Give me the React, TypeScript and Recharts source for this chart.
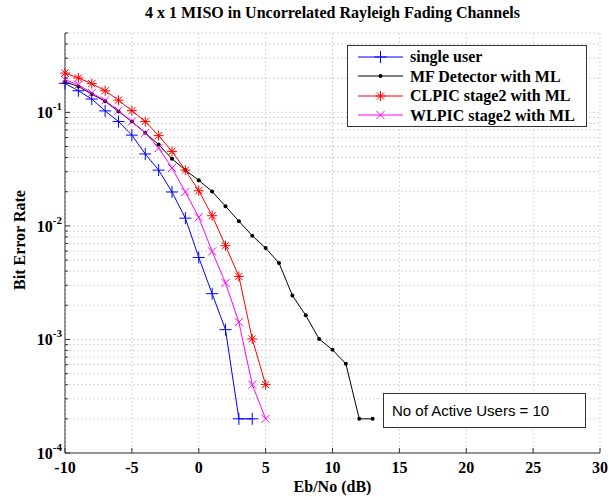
import React from 'react';
import { LineChart, Line, XAxis, YAxis, CartesianGrid } from 'recharts';

// Eb/No in dB
const ebno = [-10, -9, -8, -7, -6, -5, -4, -3, -2, -1, 0, 1, 2, 3, 4, 5, 6, 7, 8, 9, 10, 11, 12, 13];

// BER values (each series starts at -10 dB)
const singleUser = [0.18, 0.155, 0.131, 0.103, 0.083, 0.063, 0.043, 0.031, 0.0199, 0.0117, 0.00527, 0.00253, 0.00122, 0.0002, 0.0002];
const mfDetector = [0.186, 0.169, 0.145, 0.125, 0.102, 0.083, 0.066, 0.052, 0.039, 0.031, 0.0252, 0.0201, 0.0149, 0.011, 0.0082, 0.00638, 0.00471, 0.00244, 0.00163, 0.00101, 0.00081, 0.00061, 0.0002, 0.0002];
const clpic = [0.222, 0.201, 0.179, 0.155, 0.128, 0.1035, 0.083, 0.0624, 0.0453, 0.031, 0.0204, 0.0123, 0.0067, 0.00359, 0.00101, 0.0004];
const wlpic = [0.194, 0.175, 0.148, 0.127, 0.1035, 0.083, 0.066, 0.0485, 0.0324, 0.0199, 0.0119, 0.00596, 0.00314, 0.00142, 0.0004, 0.0002];

const xTicks = [-10, -5, 0, 5, 10, 15, 20, 25, 30];
const decades = [1e-4, 1e-3, 1e-2, 1e-1];
const mantissas = [1, 2, 3, 4, 5, 6, 7, 8, 9];

const legendItems = [
  { name: 'single user', color: '#0000ff', marker: 'plus' },
  { name: 'MF Detector with ML', color: '#000000', marker: 'dot' },
  { name: 'CLPIC stage2 with ML', color: '#ff0000', marker: 'star' },
  { name: 'WLPIC stage2 with ML', color: '#ff00ff', marker: 'cross' },
];

const data = ebno.map((x, i) => ({
  x,
  su: singleUser[i],
  mf: mfDetector[i],
  cl: clpic[i],
  wl: wlpic[i],
}));

// log ticks: every mantissa of every decade, up to the 0.5 top limit
const yTicks: number[] = [];
decades.forEach((d) => mantissas.forEach((m) => {
  const v = +(m * d).toPrecision(3);
  if (v <= 0.5) yTicks.push(v);
}));

const SERIF = '"Liberation Serif", "Times New Roman", serif';
const SANS = '"Liberation Sans", Arial, sans-serif';
const AXIS = '#333';
const FS = 16;

const isDecade = (v: number) => Math.abs(Math.log10(v) - Math.round(Math.log10(v))) < 1e-6;

function Marker({ cx, cy, kind, color }: { cx: number; cy: number; kind: string; color: string }) {
  if (cx == null || cy == null) return null;
  if (kind === 'dot') return <circle cx={cx} cy={cy} r={2} fill={color} />;
  let d = '';
  if (kind === 'plus' || kind === 'star') {
    const r = kind === 'plus' ? 6 : 5;
    d += `M${cx - r},${cy}H${cx + r}M${cx},${cy - r}V${cy + r}`;
  }
  if (kind === 'cross' || kind === 'star') {
    const r = kind === 'cross' ? 4 : 3.6;
    d += `M${cx - r},${cy - r}L${cx + r},${cy + r}M${cx - r},${cy + r}L${cx + r},${cy - r}`;
  }
  return <path d={d} stroke={color} strokeWidth={1} fill="none" />;
}

const BottomTick = ({ x, y, payload }: any) => (
  <g>
    <line x1={x} y1={y} x2={x} y2={y - 5} stroke={AXIS} />
    <text x={x} y={y + 20} textAnchor="middle" fontFamily={SERIF} fontWeight="bold" fontSize={FS} fill="#000">
      {payload.value}
    </text>
  </g>
);

const TopTick = ({ x, y }: any) => <line x1={x} y1={y} x2={x} y2={y + 5} stroke={AXIS} />;

const LeftTick = ({ x, y, payload }: any) => {
  const major = isDecade(payload.value);
  const exp = Math.round(Math.log10(payload.value));
  return (
    <g>
      <line x1={x} y1={y} x2={x + (major ? 5 : 3)} y2={y} stroke={AXIS} />
      {major && (
        <text x={x - 3} y={y + 6} textAnchor="end" fontFamily={SERIF} fontWeight="bold" fontSize={FS} fill="#000">
          <tspan>10</tspan>
          <tspan dy={-8} fontSize={11}>{exp}</tspan>
        </text>
      )}
    </g>
  );
};

const RightTick = ({ x, y, payload }: any) => {
  const major = isDecade(payload.value);
  return <line x1={x} y1={y} x2={x - (major ? 5 : 3)} y2={y} stroke={AXIS} />;
};

function LegendBox() {
  return (
    <div
      style={{
        position: 'absolute', left: 347, top: 45, width: 240, height: 82,
        border: `1px solid ${AXIS}`, background: '#fff', boxSizing: 'border-box',
        fontFamily: SERIF, fontWeight: 'bold', fontSize: FS, paddingTop: 1,
      }}
    >
      {legendItems.map((it) => (
        <div key={it.name} style={{ display: 'flex', alignItems: 'center', height: 19.5 }}>
          <svg width={62} height={14} style={{ flex: 'none' }}>
            <line x1={10} y1={7} x2={55} y2={7} stroke={it.color} strokeWidth={1} />
            <Marker cx={32.5} cy={7} kind={it.marker} color={it.color} />
          </svg>
          <span style={{ lineHeight: '19px', whiteSpace: 'nowrap' }}>{it.name}</span>
        </div>
      ))}
    </div>
  );
}

export default function App() {
  const series = [
    { key: 'su', ...legendItems[0] },
    { key: 'mf', ...legendItems[1] },
    { key: 'cl', ...legendItems[2] },
    { key: 'wl', ...legendItems[3] },
  ];
  return (
    <div style={{ position: 'absolute', left: 0, top: 0, width: 609, height: 500, background: '#fff' }}>
      <LineChart width={609} height={500} data={data} margin={{ top: 33, right: 9, bottom: 0, left: 0 }}>
        <CartesianGrid stroke="#d4d4d4" strokeDasharray="2 2" />
        <XAxis
          type="number" dataKey="x" domain={[-10, 30]} ticks={xTicks} height={47}
          stroke={AXIS} tickLine={false} tickSize={0} tickMargin={0} tick={BottomTick} interval={0}
        />
        <XAxis
          xAxisId="top" orientation="top" type="number" dataKey="x" domain={[-10, 30]} ticks={xTicks} height={0}
          stroke={AXIS} tickLine={false} tickSize={0} tickMargin={0} tick={TopTick} interval={0}
        />
        <YAxis
          scale="log" domain={[1e-4, 0.5]} allowDataOverflow ticks={yTicks} width={65} type="number"
          stroke={AXIS} tickLine={false} tickSize={0} tickMargin={0} tick={LeftTick} interval={0}
        />
        <YAxis
          yAxisId="right" orientation="right" scale="log" domain={[1e-4, 0.5]} allowDataOverflow ticks={yTicks}
          width={0} type="number" stroke={AXIS} tickLine={false} tickSize={0} tickMargin={0} tick={RightTick} interval={0}
        />
        {series.map((s) => (
          <Line
            key={s.key}
            dataKey={s.key}
            stroke={s.color}
            strokeWidth={1}
            isAnimationActive={false}
            dot={(p: any) => <Marker key={`${s.key}-${p.index}`} cx={p.cx} cy={p.cy} kind={s.marker} color={s.color} />}
            activeDot={false}
          />
        ))}
      </LineChart>

      <div style={{ position: 'absolute', left: 65, width: 535, top: 4, textAlign: 'center', fontFamily: SERIF, fontWeight: 'bold', fontSize: FS }}>
        4 x 1 MISO in Uncorrelated Rayleigh Fading Channels
      </div>
      <div style={{ position: 'absolute', left: 65, width: 535, top: 478, textAlign: 'center', fontFamily: SERIF, fontWeight: 'bold', fontSize: FS }}>
        Eb/No (dB)
      </div>
      <div
        style={{
          position: 'absolute', left: 20, top: 240, transform: 'translate(-50%, -50%) rotate(-90deg)',
          fontFamily: SERIF, fontWeight: 'bold', fontSize: FS, whiteSpace: 'nowrap',
        }}
      >
        Bit Error Rate
      </div>

      <LegendBox />

      <div
        style={{
          position: 'absolute', left: 383, top: 393, width: 203, height: 35, boxSizing: 'border-box',
          border: `1px solid ${AXIS}`, background: '#fff', fontFamily: SANS, fontSize: 15,
          lineHeight: '33px', paddingLeft: 8, whiteSpace: 'nowrap',
        }}
      >
        No of Active Users = 10
      </div>
    </div>
  );
}
